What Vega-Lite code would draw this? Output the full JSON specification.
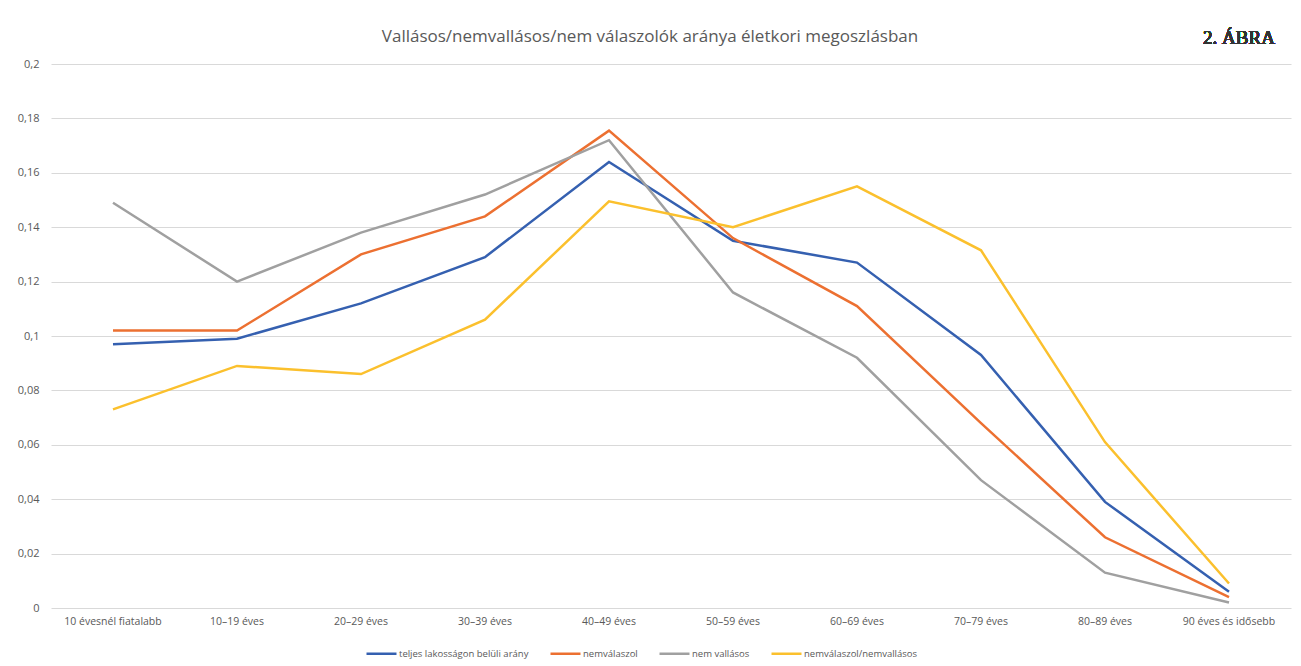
{
  "$schema": "https://vega.github.io/schema/vega-lite/v6.json",
  "width": 1240,
  "height": 544,
  "autosize": "none",
  "padding": {"left": 51, "top": 64, "right": 10, "bottom": 58},
  "background": "white",
  "title": {
    "text": "Vallásos/nemvallásos/nem válaszolók aránya életkori megoszlásban",
    "anchor": "middle",
    "dx": -21,
    "offset": -17,
    "font": "Open Sans",
    "fontSize": 17,
    "fontWeight": "normal",
    "color": "#595959"
  },
  "data": {
    "values": [
      {"age": "10 évesnél fiatalabb", "series": "teljes lakosságon belüli arány", "value": 0.097},
      {"age": "10–19 éves", "series": "teljes lakosságon belüli arány", "value": 0.099},
      {"age": "20–29 éves", "series": "teljes lakosságon belüli arány", "value": 0.112},
      {"age": "30–39 éves", "series": "teljes lakosságon belüli arány", "value": 0.129},
      {"age": "40–49 éves", "series": "teljes lakosságon belüli arány", "value": 0.164},
      {"age": "50–59 éves", "series": "teljes lakosságon belüli arány", "value": 0.135},
      {"age": "60–69 éves", "series": "teljes lakosságon belüli arány", "value": 0.127},
      {"age": "70–79 éves", "series": "teljes lakosságon belüli arány", "value": 0.093},
      {"age": "80–89 éves", "series": "teljes lakosságon belüli arány", "value": 0.039},
      {"age": "90 éves és idősebb", "series": "teljes lakosságon belüli arány", "value": 0.006},
      {"age": "10 évesnél fiatalabb", "series": "nemválaszol", "value": 0.102},
      {"age": "10–19 éves", "series": "nemválaszol", "value": 0.102},
      {"age": "20–29 éves", "series": "nemválaszol", "value": 0.130},
      {"age": "30–39 éves", "series": "nemválaszol", "value": 0.144},
      {"age": "40–49 éves", "series": "nemválaszol", "value": 0.1755},
      {"age": "50–59 éves", "series": "nemválaszol", "value": 0.136},
      {"age": "60–69 éves", "series": "nemválaszol", "value": 0.111},
      {"age": "70–79 éves", "series": "nemválaszol", "value": 0.068},
      {"age": "80–89 éves", "series": "nemválaszol", "value": 0.026},
      {"age": "90 éves és idősebb", "series": "nemválaszol", "value": 0.004},
      {"age": "10 évesnél fiatalabb", "series": "nem vallásos", "value": 0.149},
      {"age": "10–19 éves", "series": "nem vallásos", "value": 0.120},
      {"age": "20–29 éves", "series": "nem vallásos", "value": 0.138},
      {"age": "30–39 éves", "series": "nem vallásos", "value": 0.152},
      {"age": "40–49 éves", "series": "nem vallásos", "value": 0.172},
      {"age": "50–59 éves", "series": "nem vallásos", "value": 0.116},
      {"age": "60–69 éves", "series": "nem vallásos", "value": 0.092},
      {"age": "70–79 éves", "series": "nem vallásos", "value": 0.047},
      {"age": "80–89 éves", "series": "nem vallásos", "value": 0.013},
      {"age": "90 éves és idősebb", "series": "nem vallásos", "value": 0.002},
      {"age": "10 évesnél fiatalabb", "series": "nemválaszol/nemvallásos", "value": 0.073},
      {"age": "10–19 éves", "series": "nemválaszol/nemvallásos", "value": 0.089},
      {"age": "20–29 éves", "series": "nemválaszol/nemvallásos", "value": 0.086},
      {"age": "30–39 éves", "series": "nemválaszol/nemvallásos", "value": 0.106},
      {"age": "40–49 éves", "series": "nemválaszol/nemvallásos", "value": 0.1495},
      {"age": "50–59 éves", "series": "nemválaszol/nemvallásos", "value": 0.140},
      {"age": "60–69 éves", "series": "nemválaszol/nemvallásos", "value": 0.155},
      {"age": "70–79 éves", "series": "nemválaszol/nemvallásos", "value": 0.1315},
      {"age": "80–89 éves", "series": "nemválaszol/nemvallásos", "value": 0.061},
      {"age": "90 éves és idősebb", "series": "nemválaszol/nemvallásos", "value": 0.009}
    ]
  },
  "layer": [
    {
      "mark": {"type": "line", "strokeWidth": 2.5, "strokeJoin": "miter"},
      "encoding": {
        "x": {
          "field": "age",
          "type": "nominal",
          "sort": null,
          "scale": {"type": "band", "paddingInner": 0, "paddingOuter": 0},
          "axis": {
            "title": null,
            "labelAngle": 0,
            "domain": false,
            "ticks": false,
            "grid": false,
            "labelPadding": 8,
            "labelFont": "Open Sans",
            "labelFontSize": 10.5,
            "labelColor": "#595959"
          }
        },
        "y": {
          "field": "value",
          "type": "quantitative",
          "scale": {"domain": [0, 0.2], "nice": false},
          "axis": {
            "title": null,
            "values": [0, 0.02, 0.04, 0.06, 0.08, 0.1, 0.12, 0.14, 0.16, 0.18, 0.2],
            "labelExpr": "replace(format(datum.value, ''), '.', ',')",
            "domain": false,
            "ticks": false,
            "labelPadding": 12,
            "labelFont": "Open Sans",
            "labelFontSize": 11,
            "labelColor": "#595959",
            "gridColor": "#d9d9d9",
            "gridWidth": 1
          }
        },
        "color": {
          "field": "series",
          "type": "nominal",
          "sort": ["teljes lakosságon belüli arány", "nemválaszol", "nem vallásos", "nemválaszol/nemvallásos"],
          "scale": {
            "domain": ["teljes lakosságon belüli arány", "nemválaszol", "nem vallásos", "nemválaszol/nemvallásos"],
            "range": ["#3560b0", "#ec7031", "#a0a0a0", "#fbc02d"]
          },
          "legend": {
            "title": null,
            "orient": "none",
            "direction": "horizontal",
            "legendX": 314,
            "legendY": 573,
            "symbolType": "stroke",
            "symbolSize": 900,
            "symbolStrokeWidth": 2.5,
            "labelFont": "Open Sans",
            "labelFontSize": 9.5,
            "labelColor": "#595959",
            "labelOffset": 1,
            "columnPadding": 16
          }
        }
      }
    },
    {
      "mark": {
        "type": "text",
        "font": "Liberation Serif",
        "fontSize": 19,
        "fontWeight": 400,
        "color": "#333333",
        "align": "center",
        "baseline": "middle",
        "dy": -26,
        "dx": 10
      },
      "encoding": {
        "x": {"datum": "90 éves és idősebb", "type": "nominal"},
        "y": {"datum": 0.2, "type": "quantitative"},
        "text": {"value": "2. ÁBRA"}
      }
    }
  ],
  "config": {
    "view": {"stroke": null}
  }
}
